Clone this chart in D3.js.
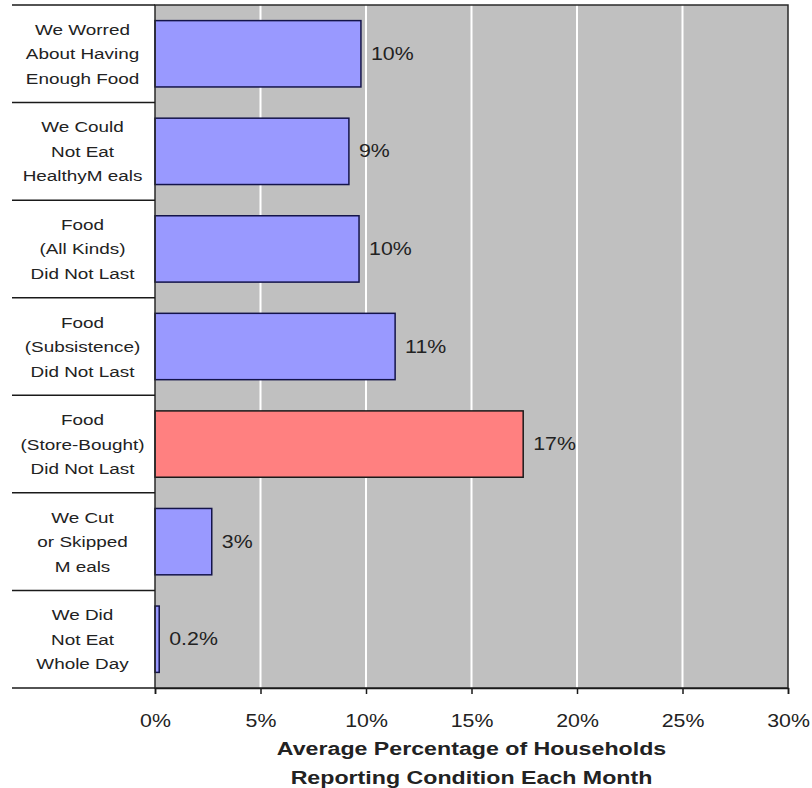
<!DOCTYPE html>
<html><head><meta charset="utf-8">
<script src="https://cdn.jsdelivr.net/npm/d3@7"></script>
<style>body{margin:0;background:#fff;} svg{display:block;}</style>
</head><body>
<svg id="c" width="812" height="788"></svg>
<script>
const categories = [
  ["We Worred","About Having","Enough Food"],
  ["We Could","Not Eat","HealthyM eals"],
  ["Food","(All Kinds)","Did Not Last"],
  ["Food","(Subsistence)","Did Not Last"],
  ["Food","(Store-Bought)","Did Not Last"],
  ["We Cut","or Skipped","M eals"],
  ["We Did","Not Eat","Whole Day"]
];
const values = [9.76, 9.19, 9.67, 11.38, 17.45, 2.69, 0.2];
const valueLabels = ["10%","9%","10%","11%","17%","3%","0.2%"];
const highlight = [false,false,false,false,true,false,false];
const xTicks = [0,5,10,15,20,25,30];
const axisTitle = ["Average Percentage of Households","Reporting Condition Each Month"];

const svg = d3.select("#c");
const L = 155, R = 788, T = 5, B = 688, labelLeft = 12;
const SX = 1.22;
const font = "Arial, 'Liberation Sans', sans-serif";
const ink = "#222";

const x = d3.scaleLinear().domain([0,30]).range([L,R]);
const keys = categories.map((d,i)=>i);
const y = d3.scaleBand().domain(keys).range([T,B]).paddingInner(0.32).paddingOuter(0.16);

// background
svg.append("rect").attr("x",L).attr("y",T).attr("width",R-L).attr("height",B-T).attr("fill","#C0C0C0");

// gridlines
svg.append("g").selectAll("line").data(xTicks.filter(t=>t>0&&t<30)).join("line")
  .attr("x1",d=>x(d)).attr("x2",d=>x(d)).attr("y1",T).attr("y2",B)
  .attr("stroke","#fff").attr("stroke-width",2);

// bars
svg.append("g").selectAll("rect").data(values).join("rect")
  .attr("x",x(0)).attr("y",(d,i)=>y(i))
  .attr("width",d=>x(d)-x(0)).attr("height",y.bandwidth())
  .attr("fill",(d,i)=>highlight[i]?"#FF8080":"#9999FF")
  .attr("stroke",(d,i)=>highlight[i]?"#1a1a1a":"#14144a").attr("stroke-width",1.5);

// plot border
svg.append("rect").attr("x",L).attr("y",T).attr("width",R-L).attr("height",B-T)
  .attr("fill","none").attr("stroke","#2a2a2a").attr("stroke-width",1.5);

// category separators (extend left)
const seps = d3.range(categories.length+1).map(i=>T + i*y.step());
svg.append("g").selectAll("line").data(seps).join("line")
  .attr("x1",labelLeft).attr("x2",L).attr("y1",d=>d).attr("y2",d=>d)
  .attr("stroke","#1a1a1a").attr("stroke-width",1.5);

// x axis ticks
const xAxis = d3.axisBottom(x).tickValues(xTicks).tickSize(6).tickFormat(d=>d+"%");
const gx = svg.append("g").attr("transform",`translate(0,${B})`).call(xAxis);
gx.select(".domain").attr("stroke","#1a1a1a").attr("stroke-width",1.5);
gx.selectAll(".tick line").attr("stroke","#1a1a1a").attr("stroke-width",1.5);
gx.selectAll(".tick text").each(function(d){
  d3.select(this).attr("x",null).attr("y",null).attr("dy",null)
    .attr("transform",`translate(0,39) scale(${SX},1)`)
    .attr("font-family",font).attr("font-size",17.5).attr("fill",ink).attr("text-anchor","middle");
});

// value labels
svg.append("g").selectAll("text").data(values).join("text")
  .attr("transform",(d,i)=>`translate(${x(d)+10},${y(i)+y.bandwidth()/2+6}) scale(${SX},1)`)
  .attr("font-family",font).attr("font-size",17.5).attr("fill",ink)
  .text((d,i)=>valueLabels[i]);

// category labels
const cx = (labelLeft+L)/2 - 1;
const lh = 24.5;
categories.forEach((lines,i)=>{
  const c = y(i)+y.bandwidth()/2;
  lines.forEach((t,j)=>{
    svg.append("text")
      .attr("transform",`translate(${cx},${c + (j-1)*lh + 5.5}) scale(${SX},1)`)
      .attr("text-anchor","middle").attr("font-family",font).attr("font-size",15.5).attr("fill",ink)
      .text(t);
  });
});

// axis title
axisTitle.forEach((t,j)=>{
  svg.append("text")
    .attr("transform",`translate(${(L+R)/2},${755 + j*29}) scale(${SX},1)`)
    .attr("text-anchor","middle").attr("font-family",font).attr("font-size",19).attr("font-weight","bold").attr("fill",ink)
    .text(t);
});
</script>
</body></html>
